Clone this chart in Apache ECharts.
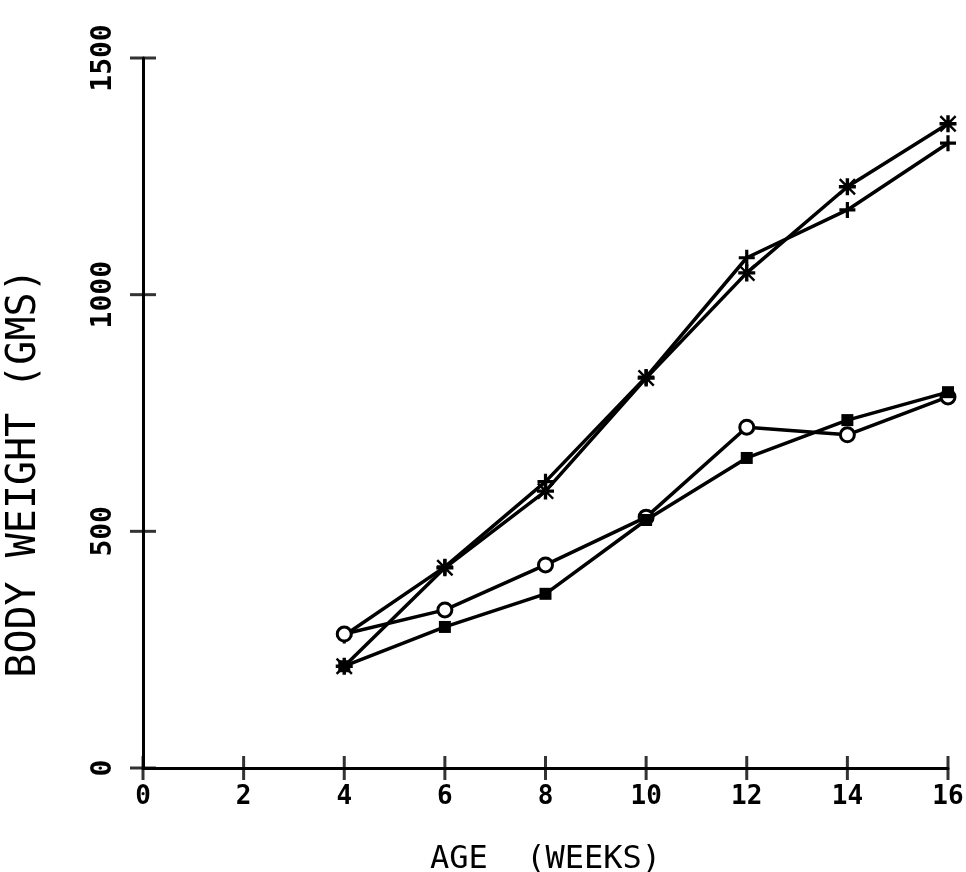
<!DOCTYPE html>
<html>
<head>
<meta charset="utf-8">
<script src="https://cdn.jsdelivr.net/npm/echarts@6/dist/echarts.min.js"></script>
<style>
html,body{margin:0;padding:0;background:#fff;}
#chart{width:966px;height:872px;}
</style>
</head>
<body>
<div id="chart"></div>
<script>
// ---- data ----
var weeks = [4, 6, 8, 10, 12, 14, 16];
var seriesStar   = [215, 423, 585, 824, 1046, 1228, 1361];   // asterisk markers
var seriesPlus   = [280, 425, 605, 826, 1078, 1179, 1320];   // plus markers
var seriesCircle = [283, 334, 429, 530, 720, 704, 784];      // open circles
var seriesSquare = [215, 298, 368, 524, 655, 735, 794];      // filled squares
var xTicks = [0, 2, 4, 6, 8, 10, 12, 14, 16];
var yTicks = [0, 500, 1000, 1500];
var xTitle = 'AGE  (WEEKS)';
var yTitle = 'BODY WEIGHT (GMS)';

function pairs(vals){ return weeks.map(function(w,i){ return [w, vals[i]]; }); }

var FONT = '"DejaVu Sans Mono", "Liberation Mono", monospace';
var plusPath = 'path://M4,0H6V4H10V6H6V10H4V6H0V4H4Z';
var starPath = 'path://M4,0H6V4H10V6H6V10H4V6H0V4H4Z M1,0L10,9L9,10L0,1Z M9,0L10,1L1,10L0,9Z';

var chart = echarts.init(document.getElementById('chart'), null, {renderer:'canvas'});

function lineSeries(name, vals, symbol, size, filled){
  return {
    name: name,
    type: 'line',
    data: pairs(vals),
    symbol: symbol,
    symbolSize: size,
    showAllSymbol: true,
    lineStyle: {color:'#000', width:3.5},
    itemStyle: filled ? {color:'#000'} : {color:'#fff', borderColor:'#000', borderWidth:3},
    emphasis: {disabled:true},
    animation: false,
    z: 3
  };
}

var option = {
  backgroundColor: '#fff',
  animation: false,
  grid: {left: 143, right: 18, top: 58, bottom: 104, containLabel: false, outerBoundsMode: 'none'},
  xAxis: {
    type: 'value', min: xTicks[0], max: xTicks[xTicks.length-1], interval: 2,
    position: 'bottom',
    axisLine: {show:true, lineStyle:{color:'#000', width:3}},
    axisTick: {show:false},
    axisLabel: {show:true, color:'#000', fontFamily: FONT, fontWeight:'bold', fontSize:26, margin:16},
    splitLine: {show:false},
    name: xTitle, nameLocation:'middle', nameGap: 76,
    nameTextStyle: {color:'#000', fontFamily: FONT, fontSize:32, fontWeight:'normal'}
  },
  yAxis: {
    type: 'value', min: yTicks[0], max: yTicks[yTicks.length-1], interval: 500,
    position: 'left',
    axisLine: {show:true, lineStyle:{color:'#000', width:3}},
    axisTick: {show:false},
    axisLabel: {show:true, rotate:90, color:'#000', fontFamily: FONT, fontWeight:'bold', fontSize:28, margin:25,
      formatter: function(v){ return String(v); }},
    splitLine: {show:false},
    name: yTitle, nameLocation:'middle', nameGap: 98, nameRotate: 90,
    nameTextStyle: {color:'#000', fontFamily: FONT, fontSize:40, fontWeight:'normal', padding:[0,120,0,0]}
  },
  series: [
    {
      type: 'scatter', clip: false, silent: true, animation: false, z: 2,
      symbol: 'rect', symbolSize: [3, 24],
      itemStyle: {color:'#000'},
      data: xTicks.map(function(t){ return [t, yTicks[0]]; })
    },
    {
      type: 'scatter', clip: false, silent: true, animation: false, z: 2,
      symbol: 'rect', symbolSize: [26, 3],
      itemStyle: {color:'#000'},
      data: yTicks.map(function(t){ return [xTicks[0], t]; })
    },
    lineSeries('star', seriesStar, starPath, 17, true),
    lineSeries('plus', seriesPlus, plusPath, 16, true),
    lineSeries('circle', seriesCircle, 'circle', 14, false),
    lineSeries('square', seriesSquare, 'rect', 12, true)
  ]
};
chart.setOption(option);
</script>
</body>
</html>
